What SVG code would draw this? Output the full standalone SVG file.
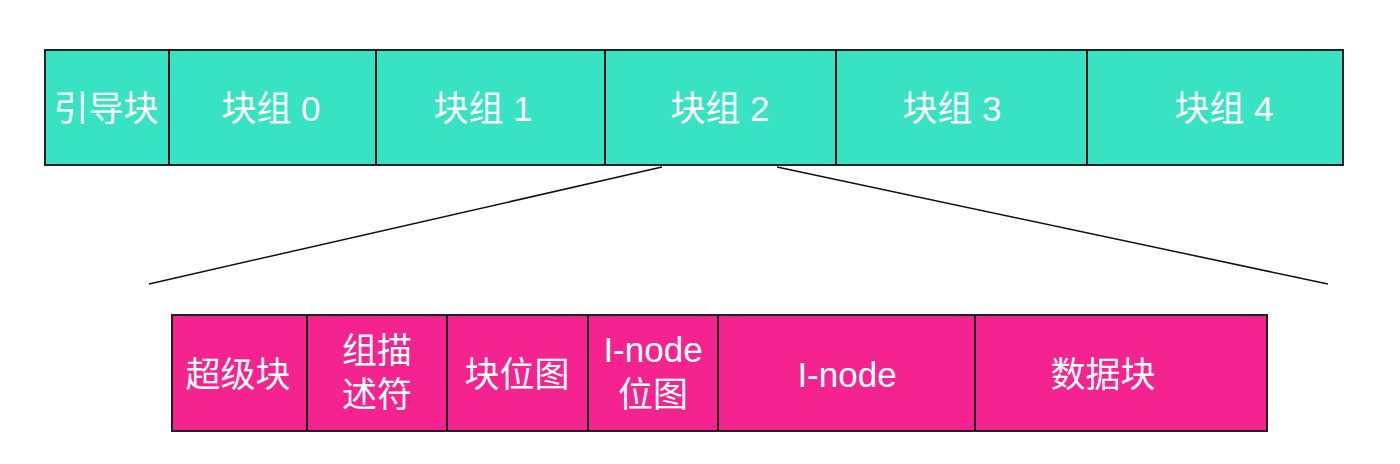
<svg xmlns="http://www.w3.org/2000/svg" width="1400" height="464" viewBox="0 0 1400 464">
<style>
.top{fill:#38e3c3;stroke:#222;stroke-width:2}
.bot{fill:#f5238f;stroke:#222;stroke-width:2}
.div{stroke:#111;stroke-width:2}
.t{font-family:"Liberation Sans","Noto Sans CJK SC",sans-serif;font-size:35px;fill:#fff;text-anchor:middle;dominant-baseline:central}
.c{stroke:#111;stroke-width:1.5;fill:none}
</style>
<rect width="1400" height="464" fill="#fff"/>
<g id="top-bar">
<rect class="top" x="45" y="50" width="1298" height="115"/>
</g>
<g id="n-yindao"><line class="div" x1="169" y1="50" x2="169" y2="165"/><text class="t" x="106" y="108">引导块</text></g>
<g id="n-g0"><line class="div" x1="376" y1="50" x2="376" y2="165"/><text class="t" x="271" y="108">块组 0</text></g>
<g id="n-g1"><line class="div" x1="605" y1="50" x2="605" y2="165"/><text class="t" x="483" y="108">块组 1</text></g>
<g id="n-g2"><line class="div" x1="836" y1="50" x2="836" y2="165"/><text class="t" x="720" y="108">块组 2</text></g>
<g id="n-g3"><line class="div" x1="1087" y1="50" x2="1087" y2="165"/><text class="t" x="952" y="108">块组 3</text></g>
<g id="n-g4"><text class="t" x="1224" y="108">块组 4</text></g>
<g id="connectors">
<line class="c" x1="662" y1="167" x2="149" y2="284"/>
<line class="c" x1="777" y1="167" x2="1328" y2="284"/>
</g>
<g id="bottom-bar">
<rect class="bot" x="172" y="315" width="1095" height="116"/>
</g>
<g id="n-super"><line class="div" x1="307" y1="315" x2="307" y2="431"/><text class="t" x="238" y="374">超级块</text></g>
<g id="n-gdesc"><line class="div" x1="447" y1="315" x2="447" y2="431"/><text class="t" x="377" y="350">组描</text><text class="t" x="377" y="394">述符</text></g>
<g id="n-bbitmap"><line class="div" x1="588" y1="315" x2="588" y2="431"/><text class="t" x="517" y="374">块位图</text></g>
<g id="n-ibitmap"><line class="div" x1="718" y1="315" x2="718" y2="431"/><text class="t" x="653" y="349">I-node</text><text class="t" x="653" y="394">位图</text></g>
<g id="n-inode"><line class="div" x1="975" y1="315" x2="975" y2="431"/><text class="t" x="847" y="374">I-node</text></g>
<g id="n-data"><text class="t" x="1103" y="374">数据块</text></g>
</svg>
